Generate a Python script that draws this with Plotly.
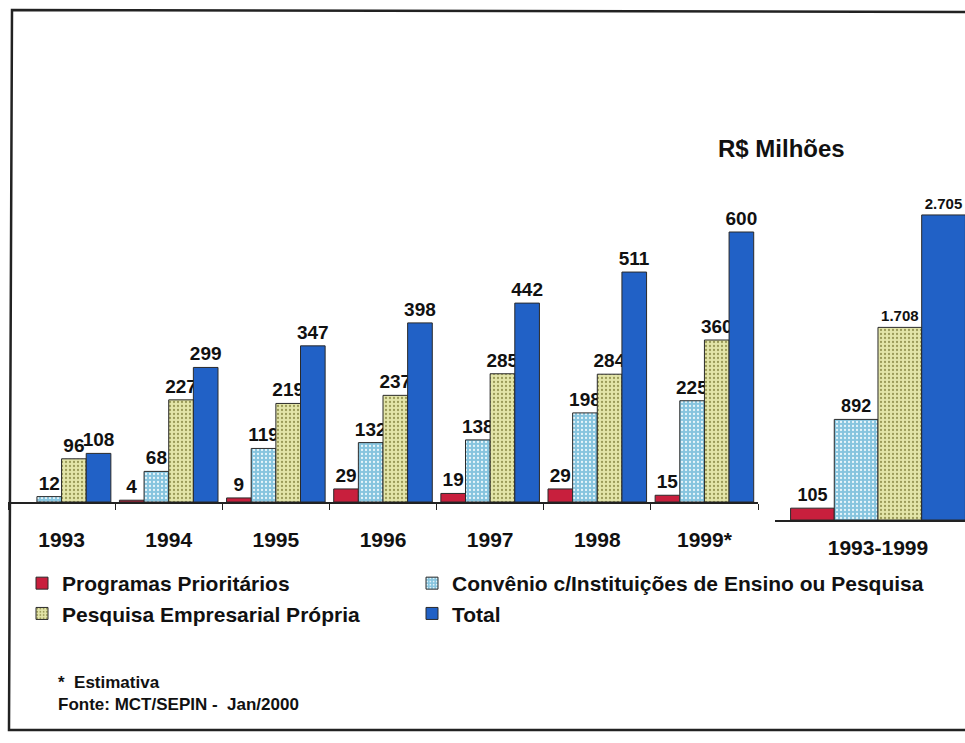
import plotly.graph_objects as go

# ---- data ----
years = ["1993", "1994", "1995", "1996", "1997", "1998", "1999*"]
programas = [None, 4, 9, 29, 19, 29, 15]
convenio = [12, 68, 119, 132, 138, 198, 225]
pesquisa = [96, 227, 219, 237, 285, 284, 360]
total = [108, 299, 347, 398, 442, 511, 600]

periodo = ["1993-1999"]
programas_tot = [105]
convenio_tot = [892]
pesquisa_tot = [1708]
total_tot = [2705]

series_names = ["Programas Prioritários",
                "Convênio c/Instituições de Ensino ou Pesquisa",
                "Pesquisa Empresarial Própria",
                "Total"]
colors = ["#c81f3d", "#86c4de", "#e3e5a9", "#2161c6"]
dot_colors = [None, "#e8f6fb", "#9a9a58", None]
legend_of = ["legend", "legend2", "legend", "legend2"]

W, H = 965, 743
def px(x):
    return x / W
def py(y):
    return 1 - y / H

FONT = "Liberation Sans, Arial, sans-serif"

fig = go.Figure()

left_vals = [programas, convenio, pesquisa, total]
right_vals = [programas_tot, convenio_tot, pesquisa_tot, total_tot]
right_sizes = [18, 18, 15, 15]

def marker(i):
    m = dict(color=colors[i], line=dict(color="#2a2a2a", width=1))
    if dot_colors[i]:
        m["pattern"] = dict(shape=".", fgcolor=dot_colors[i], bgcolor=colors[i],
                            size=4, solidity=0.25, fillmode="replace")
    return m

for i, name in enumerate(series_names):
    fig.add_trace(go.Bar(
        x=years, y=left_vals[i], name=name,
        marker=marker(i),
        texttemplate="%{y:,}", textposition="outside",
        textfont=dict(family=FONT, size=19, color="#111", weight="bold"),
        constraintext="none", cliponaxis=False,
        xaxis="x", yaxis="y", showlegend=True, legend=legend_of[i],
        legendgroup=name, hoverinfo="skip",
    ))
for i, name in enumerate(series_names):
    fig.add_trace(go.Bar(
        x=periodo, y=right_vals[i], name=name,
        marker=marker(i),
        texttemplate="%{y:,}", textposition="outside",
        textfont=dict(family=FONT, size=right_sizes[i], color="#111", weight="bold"),
        constraintext="none", cliponaxis=False,
        xaxis="x2", yaxis="y2", showlegend=False, legend=legend_of[i],
        legendgroup=name, hoverinfo="skip",
    ))

tickfont = dict(family=FONT, size=21, color="#111", weight="bold")
legfont = dict(family=FONT, size=21, color="#111", weight="bold")

fig.update_layout(
    width=W, height=H,
    margin=dict(l=0, r=0, t=0, b=0),
    paper_bgcolor="white", plot_bgcolor="white",
    barmode="group", bargap=0.08, bargroupgap=0,
    separators=",.",
    font=dict(family=FONT, color="#111"),
    xaxis=dict(domain=[px(8), px(758)], range=[-0.5, 6.5], type="category",
               showline=True, linecolor="#222", linewidth=1.5,
               ticks="outside", tickson="boundaries", ticklen=6, tickcolor="#222",
               tickfont=tickfont, ticklabelstandoff=18,
               showgrid=False, zeroline=False, anchor="y", fixedrange=True),
    yaxis=dict(domain=[py(502), py(52)], range=[0, 1000], visible=False,
               showgrid=False, zeroline=False, anchor="x"),
    xaxis2=dict(domain=[px(775), 1.0], range=[-0.542, 0.458], type="category",
                showline=True, linecolor="#222", linewidth=1.5,
                ticks="", tickfont=tickfont, ticklabelstandoff=8,
                showgrid=False, zeroline=False, anchor="y2"),
    yaxis2=dict(domain=[py(520), py(52)], range=[0, 4150], visible=False,
                showgrid=False, zeroline=False, anchor="x2"),
    legend=dict(orientation="v", x=px(22), y=py(563), xanchor="left", yanchor="top",
                font=legfont, bgcolor="rgba(0,0,0,0)", tracegroupgap=0,
                traceorder="normal"),
    legend2=dict(orientation="v", x=px(412), y=py(563), xanchor="left", yanchor="top",
                 font=legfont, bgcolor="rgba(0,0,0,0)", tracegroupgap=0,
                 traceorder="normal"),
    showlegend=True,
)

# frame (top, left, bottom; right edge cut off in the scan)
fig.add_shape(type="path", xref="paper", yref="paper",
              path=f"M {1.02} {py(12)} L {px(12)} {py(10)} L {px(9)} {py(730)} L {1.02} {py(730)}",
              line=dict(color="#222", width=2.5))

fig.add_annotation(x=px(781), y=py(148), xref="paper", yref="paper",
                   xanchor="center", yanchor="middle",
                   text="R$ Milhões", showarrow=False,
                   font=dict(family=FONT, size=24, color="#111", weight="bold"))
fig.add_annotation(x=px(56), y=py(682), xref="paper", yref="paper",
                   xanchor="left", yanchor="middle",
                   text="*  Estimativa", showarrow=False,
                   font=dict(family=FONT, size=17, color="#111", weight="bold"))
fig.add_annotation(x=px(56), y=py(704), xref="paper", yref="paper",
                   xanchor="left", yanchor="middle",
                   text="Fonte: MCT/SEPIN -  Jan/2000", showarrow=False,
                   font=dict(family=FONT, size=17, color="#111", weight="bold"))

fig.write_html("out.html")
